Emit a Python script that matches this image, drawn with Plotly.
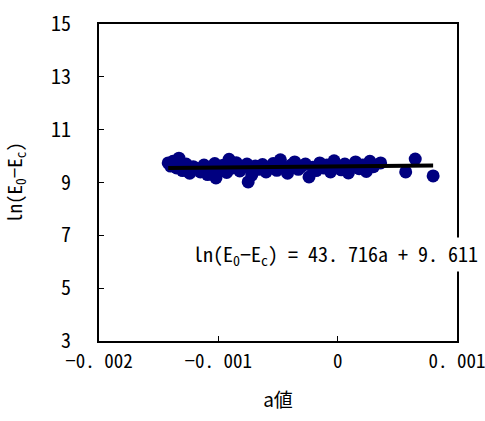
import plotly.graph_objects as go

a_vals = [-0.00142, -0.00140, -0.00138, -0.00135, -0.00133, -0.00130, -0.00127, -0.00124,
          -0.00121, -0.00118, -0.00115, -0.00112, -0.00109, -0.00106, -0.00103, -0.00102,
          -0.00099, -0.00096, -0.00093, -0.00091, -0.00088, -0.00085, -0.00082, -0.00079,
          -0.00076, -0.00075, -0.00072, -0.00069, -0.00066, -0.00063, -0.00060, -0.00057,
          -0.00054, -0.00051, -0.00048, -0.00045, -0.00042, -0.00039, -0.00036, -0.00033,
          -0.00030, -0.00027, -0.00024, -0.00021, -0.00018, -0.00015, -0.00012, -0.00009,
          -0.00006, -0.00003, 0.00000, 0.00003, 0.00006, 0.00009, 0.00012, 0.00015,
          0.00018, 0.00021, 0.00024, 0.00027, 0.00030, 0.00036, 0.00057, 0.00065, 0.00080]
ln_vals = [9.74, 9.62, 9.80, 9.55, 9.92, 9.45, 9.70, 9.35, 9.60, 9.52, 9.40, 9.66, 9.30, 9.58,
           9.72, 9.17, 9.50, 9.65, 9.38, 9.88, 9.55, 9.75, 9.44, 9.60, 9.70, 9.02, 9.28, 9.62,
           9.50, 9.68, 9.40, 9.58, 9.72, 9.46, 9.86, 9.55, 9.35, 9.66, 9.78, 9.50, 9.62, 9.70,
           9.21, 9.58, 9.45, 9.74, 9.55, 9.66, 9.40, 9.82, 9.58, 9.48, 9.70, 9.36, 9.62, 9.78,
           9.52, 9.66, 9.42, 9.80, 9.60, 9.74, 9.40, 9.89, 9.25]

slope = 43.716
intercept = 9.611
fit_x = [min(a_vals), max(a_vals)]
fit_y = [slope * x + intercept for x in fit_x]

x_ticks = [-0.002, -0.001, 0, 0.001]
x_ticktext = ["−0. 002", "−0. 001", "0", "0. 001"]
y_ticks = [3, 5, 7, 9, 11, 13, 15]

font_num = "Noto Sans Mono CJK JP, Noto Sans CJK JP, DejaVu Sans Mono"

fig = go.Figure()
fig.add_trace(go.Scatter(x=a_vals, y=ln_vals, mode="markers",
                         marker=dict(color="#000080", size=13, line=dict(width=0)),
                         showlegend=False))
fig.add_trace(go.Scatter(x=fit_x, y=fit_y, mode="lines",
                         line=dict(color="black", width=4), showlegend=False))

fig.add_annotation(x=1.065, y=6.26, xref="paper", yref="y", xanchor="right", yanchor="middle",
                   text="ln(E<sub>0</sub>−E<sub>c</sub>) = 43. 716a + 9. 611",
                   showarrow=False, bgcolor="white", borderpad=1,
                   font=dict(family=font_num, size=20, color="black"))

fig.update_layout(
    width=485, height=421,
    margin=dict(l=99, r=28, t=24, b=80, autoexpand=False),
    paper_bgcolor="white", plot_bgcolor="white",
    font=dict(family=font_num, size=20, color="black"),
    xaxis=dict(range=[-0.002, 0.001], tickvals=x_ticks, ticktext=x_ticktext,
               ticks="inside", ticklen=5, tickcolor="black", showgrid=False, zeroline=False,
               showline=True, linecolor="black", linewidth=2, mirror=True, automargin=False,
               ticklabelstandoff=2, ticklabeloverflow="allow", tickfont=dict(size=19),
               title=dict(text="a値", font=dict(family="Noto Sans CJK JP", size=19), standoff=22)),
    yaxis=dict(range=[3, 15], tickvals=y_ticks, automargin=False,
               ticks="inside", ticklen=5, tickcolor="black", showgrid=False, zeroline=False,
               showline=True, linecolor="black", linewidth=2, mirror=True,
               ticklabelstandoff=22,
               title=dict(text="ln(E<sub>0</sub>−E<sub>c</sub>)", font=dict(size=19), standoff=24)),
)

fig.write_html("out.html")
